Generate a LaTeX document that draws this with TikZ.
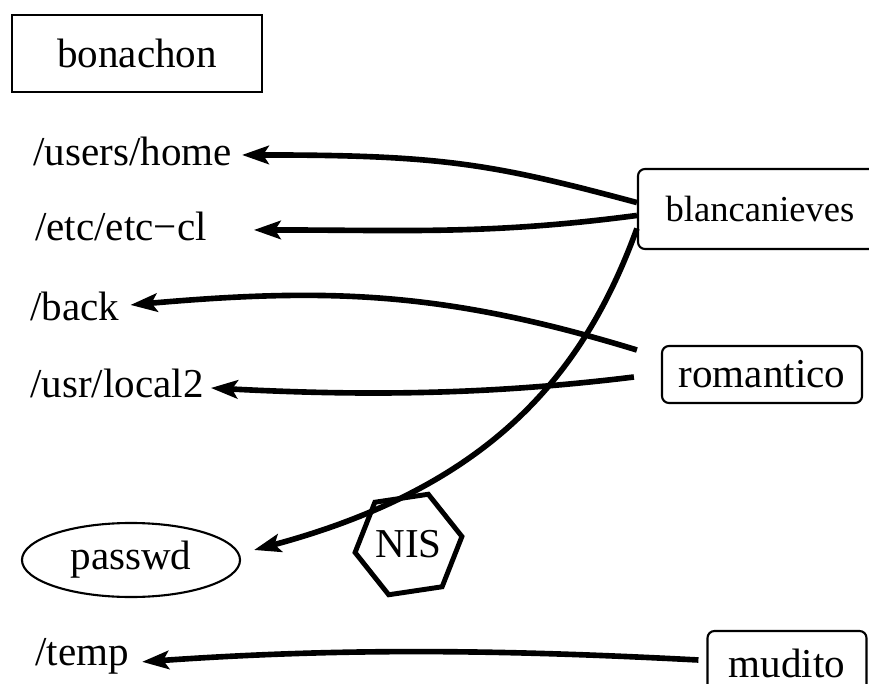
\documentclass[tikz,border=0pt]{standalone}
\usepackage{fontspec}
\setmainfont{Liberation Serif}
\usetikzlibrary{arrows.meta, shapes.geometric}

\begin{document}
\begin{tikzpicture}[
  x=0.025cm, y=0.025cm,
  every node/.style = {font=\fontsize{29.2}{35}\selectfont},
  host/.style   = {draw, line width=1.5pt, rounded corners=5pt, inner sep=0pt},
  mount/.style  = {anchor=base west, inner sep=0pt},
  arr/.style    = {-{Stealth[length=19pt, width=13pt, inset=4pt]}, line width=4pt},
]
  \useasboundingbox (0,0) rectangle (869,-684);
  \clip (0,0) rectangle (869,-684);

  \node[draw, line width=1.7pt, inner sep=0pt, minimum width=6.25cm,
        minimum height=1.925cm]                          (bon)    at (137,-53.5) {bonachon};
  \node[host, minimum width=6.1cm, minimum height=2cm,
        font=\fontsize{26}{31}\selectfont]               (blanca) at (760,-209)  {blancanieves};
  \node[host, minimum width=5cm, minimum height=1.425cm] (rom)    at (762,-374.5) {romantico};
  \node[host, minimum width=3.975cm, minimum height=1.6cm] (mud)  at (787,-663)  {mudito};

  \node[mount] (home) at (33,-165)  {/users/home};
  \node[mount] (etc)  at (35,-240)  {/etc/etc−cl};
  \node[mount] (back) at (30,-320)  {/back};
  \node[mount] (usr)  at (30,-397)  {/usr/local2};
  \node[mount] (temp) at (35,-665)  {/temp};
  \node[draw, ellipse, line width=1.5pt, inner sep=0pt, minimum width=5.45cm,
        minimum height=1.85cm] (pw) at (131,-560) {passwd};
  \node[draw, regular polygon, regular polygon sides=6, regular polygon rotate=8.5,
        line width=3.5pt, inner sep=0pt, minimum size=2.175cm] (nis) at (408.5,-544.5) {NIS};

  \draw[arr] (blanca.177) .. controls +(165:150) and +(0:200) .. ([shift={(10,-4)}]home.east);
  \draw[arr] (blanca.183) .. controls +(187.5:150) and +(0:150) .. ([shift={(47,-4)}]etc.east);
  \draw[arr] ([shift={(-24,24.5)}]rom.west) .. controls +(163:200) and +(5:200) .. ([shift={(11,1)}]back.east);
  \draw[arr] ([shift={(-27,-2.5)}]rom.west) .. controls +(187:150) and +(-3:150) .. ([shift={(7,-5)}]usr.east);
  \draw[arr] (blanca.189) .. controls +(250:150) and +(15:250) .. ([shift={(13,10)}]pw.east);
  \draw[arr] ([shift={(-8,3)}]mud.west) .. controls +(177:200) and +(4:200) .. ([shift={(13,-6)}]temp.east);
\end{tikzpicture}
\end{document}
